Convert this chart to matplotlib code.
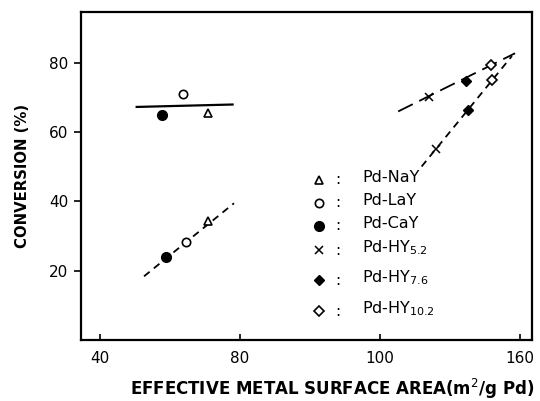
import matplotlib
matplotlib.use('Agg')
import matplotlib.pyplot as plt

plt.rcParams['font.family'] = ['DejaVu Sans']
plt.rcParams['mathtext.fontset'] = 'dejavusans'

# x positions on the printed (evenly spaced) scale, ticks labelled 40/80/100/160
xticks = [40, 80, 120, 160]
xticklabels = ['40', '80', '100', '160']
yticks = [20, 40, 60, 80]

# upper group (solid line)
nay_up = (70.9, 65.5)
lay_up = (63.8, 71.0)
cay_up = (57.6, 65.0)
solid_x = [50.5, 77.9]
solid_y = [67.3, 68.0]

# lower group (dashed line)
nay_lo = (71.0, 34.3)
lay_lo = (64.6, 28.3)
cay_lo = (58.9, 24.0)
dash1_x = [52.6, 78.3]
dash1_y = [18.4, 39.5]

# HY series, upper long-dash line
hy52_a = (134.0, 70.3)
hy76_a = (144.6, 74.8)
hy102_a = (151.7, 79.4)
dash2_x = [125.2, 158.6]
dash2_y = [66.0, 82.8]

# HY series, lower dashed line
hy52_b = (136.0, 55.2)
hy76_b = (145.2, 66.5)
hy102_b = (152.1, 75.1)
dash3_x = [131.9, 157.7]
dash3_y = [50.1, 82.0]

legend_labels = ['Pd-NaY', 'Pd-LaY', 'Pd-CaY',
                 'Pd-HY$_{5.2}$', 'Pd-HY$_{7.6}$', 'Pd-HY$_{10.2}$']

fig = plt.figure(figsize=(5.4, 4.01), dpi=100)
ax = fig.add_axes([0.150, 0.152, 0.835, 0.818])

ms = 6
tri = dict(marker='^', mfc='white', mec='black', mew=1.2, ms=ms, ls='none')
ocirc = dict(marker='o', mfc='white', mec='black', mew=1.2, ms=ms, ls='none')
fcirc = dict(marker='o', mfc='black', mec='black', ms=ms + 1, ls='none')
cross = dict(marker='x', color='black', mew=1.1, ms=ms, ls='none')
fdia = dict(marker='D', mfc='black', mec='black', ms=ms - 1, ls='none')
odia = dict(marker='D', mfc='white', mec='black', mew=1.2, ms=ms - 1, ls='none')

ax.plot(solid_x, solid_y, color='black', lw=1.6)
ax.plot(dash1_x, dash1_y, color='black', lw=1.3, dashes=(4, 3))
ax.plot(dash2_x, dash2_y, color='black', lw=1.3, dashes=(9, 4))
ax.plot(dash3_x, dash3_y, color='black', lw=1.3, dashes=(4, 3))

for p in (nay_up, nay_lo):
    ax.plot(*p, **tri)
for p in (lay_up, lay_lo):
    ax.plot(*p, **ocirc)
for p in (cay_up, cay_lo):
    ax.plot(*p, **fcirc)
for p in (hy52_a, hy52_b):
    ax.plot(*p, **cross)
for p in (hy76_a, hy76_b):
    ax.plot(*p, **fdia)
for p in (hy102_a, hy102_b):
    ax.plot(*p, **odia)

# key drawn inside the plot
styles = [tri, ocirc, fcirc, cross, fdia, odia]
rows = [0.488, 0.418, 0.348, 0.274, 0.183, 0.088]
for st, lab, yy in zip(styles, legend_labels, rows):
    ax.plot(0.528, yy, transform=ax.transAxes, clip_on=False, **st)
    ax.text(0.570, yy, ':', transform=ax.transAxes, fontsize=11,
            va='center', ha='center')
    ax.text(0.623, yy + 0.008, lab, transform=ax.transAxes, fontsize=11.5,
            va='center', ha='left')

ax.set_xlim(34.6, 163.4)
ax.set_ylim(0, 94.7)
ax.set_xticks(xticks)
ax.set_xticklabels(xticklabels)
ax.set_yticks(yticks)
ax.tick_params(axis='x', direction='in', length=4, width=1.2, labelsize=11, pad=8)
ax.tick_params(axis='y', direction='out', length=5, width=1.2, labelsize=11, pad=4)
for s in ax.spines.values():
    s.set_linewidth(1.6)

ax.set_xlabel('EFFECTIVE METAL SURFACE AREA(m$^{2}$/g Pd)', fontsize=12,
              fontweight='bold', labelpad=8, x=0.556)
ax.set_ylabel('CONVERSION (%)', fontsize=10.7, fontweight='bold', labelpad=14)

fig.savefig('out.png', dpi=100)
